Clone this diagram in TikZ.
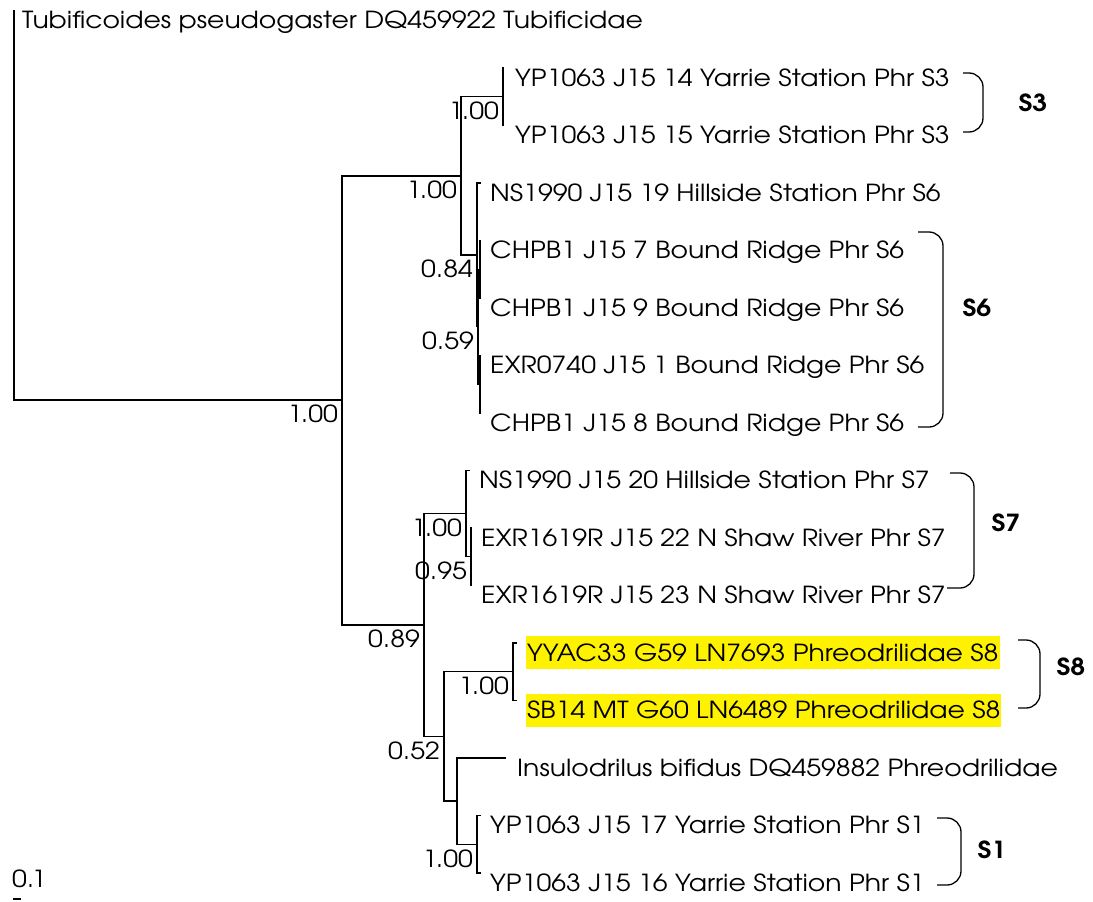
\documentclass[tikz,border=0pt]{standalone}
\usepackage{fontspec}
\setmainfont[FakeStretch=1.135]{TeX Gyre Adventor}
\usepackage{tikz}
\usepackage{xcolor}

\begin{document}
\begin{tikzpicture}[x=1pt, y=-1pt,
  br/.style={line width=1.2pt, line cap=rect},
  tip/.style={anchor=base west, inner sep=0pt, xshift=10pt, yshift=-18pt, font=\fontsize{23.5}{28}\selectfont},
  hl/.style={tip, fill=yellow, inner xsep=1pt, text height=22pt, text depth=5pt, inner ysep=3pt},
  bs/.style={anchor=north east, inner sep=0pt, xshift=-4pt, yshift=-5pt, font=\fontsize{23.5}{28}\selectfont},
  grp/.style={font=\fontsize{23.5}{28}\selectfont\bfseries},
  brk/.style={line width=1.3pt, rounded corners=14pt}]
\useasboundingbox (0,0) rectangle (1093,902);

% tips
\coordinate (tubi) at (14,10.5);
\coordinate (yp14) at (503,68);
\coordinate (yp15) at (503,125.5);
\coordinate (ns19) at (480,183);
\coordinate (ch7) at (480,240.5);
\coordinate (ch9) at (480,298);
\coordinate (exr0740) at (480,355.5);
\coordinate (ch8) at (480,413);
\coordinate (ns20) at (469,470.5);
\coordinate (exr22) at (471,528);
\coordinate (exr23) at (471,585.5);
\coordinate (yyac) at (516,643);
\coordinate (sb14) at (516,700.5);
\coordinate (insul) at (505,758);
\coordinate (yp17) at (480,815.5);
\coordinate (yp16) at (480,873);

% inner nodes
\coordinate (root) at (14,205);
\coordinate (nIn) at (342,400);
\coordinate (nUp) at (461,176);
\coordinate (nS3) at (503,96.75);
\coordinate (nA) at (477,255);
\coordinate (nB) at (478,326.75);
\coordinate (nC1) at (480,269.25);
\coordinate (nC2) at (480,384.25);
\coordinate (nLow) at (424,625);
\coordinate (nS7) at (466,513.5);
\coordinate (nF) at (471,556.75);
\coordinate (nG) at (444,736.5);
\coordinate (nS8) at (513,671.75);
\coordinate (nI) at (457,801);
\coordinate (nS1) at (477,844.25);

% branches
\foreach \a/\b in {root/tubi, root/nIn, nIn/nUp, nIn/nLow, nUp/nS3, nUp/nA,
  nS3/yp14, nS3/yp15, nA/ns19, nA/nB, nB/nC1, nB/nC2, nC1/ch7, nC1/ch9,
  nC2/exr0740, nC2/ch8, nLow/nS7, nLow/nG, nS7/ns20, nS7/nF, nF/exr22, nF/exr23,
  nG/nS8, nG/nI, nS8/yyac, nS8/sb14, nI/insul, nI/nS1, nS1/yp17, nS1/yp16}
  \draw[br] (\a) |- (\b);

% tip labels
\node[tip, xshift=-2pt] (lTubi) at (tubi) {Tubificoides pseudogaster DQ459922 Tubificidae};
\node[tip, xshift=2pt] (lYp14) at (yp14) {YP1063 J15 14 Yarrie Station Phr S3};
\node[tip, xshift=2pt] (lYp15) at (yp15) {YP1063 J15 15 Yarrie Station Phr S3};
\node[tip] (lNs19) at (ns19) {NS1990 J15 19 Hillside Station Phr S6};
\node[tip] (lCh7) at (ch7) {CHPB1 J15 7 Bound Ridge Phr S6};
\node[tip] (lCh9) at (ch9) {CHPB1 J15 9 Bound Ridge Phr S6};
\node[tip] (lExr0740) at (exr0740) {EXR0740 J15 1 Bound Ridge Phr S6};
\node[tip] (lCh8) at (ch8) {CHPB1 J15 8 Bound Ridge Phr S6};
\node[tip] (lNs20) at (ns20) {NS1990 J15 20 Hillside Station Phr S7};
\node[tip] (lExr22) at (exr22) {EXR1619R J15 22 N Shaw River Phr S7};
\node[tip] (lExr23) at (exr23) {EXR1619R J15 23 N Shaw River Phr S7};
\node[hl] (lYyac) at (yyac) {YYAC33 G59 LN7693 Phreodrilidae S8};
\node[hl] (lSb14) at (sb14) {SB14 MT G60 LN6489 Phreodrilidae S8};
\node[tip, xshift=2pt] (lInsul) at (insul) {Insulodrilus bifidus DQ459882 Phreodrilidae};
\node[tip] (lYp17) at (yp17) {YP1063 J15 17 Yarrie Station Phr S1};
\node[tip] (lYp16) at (yp16) {YP1063 J15 16 Yarrie Station Phr S1};

% support values
\node[bs] (bIn) at (nIn) {1.00};
\node[bs] (bUp) at (nUp) {1.00};
\node[bs] (bS3) at (nS3) {1.00};
\node[bs] (bA) at (nA) {0.84};
\node[bs] (bB) at (nB) {0.59};
\node[bs] (bLow) at (nLow) {0.89};
\node[bs] (bS7) at (nS7) {1.00};
\node[bs] (bF) at (nF) {0.95};
\node[bs] (bG) at (nG) {0.52};
\node[bs] (bS8) at (nS8) {1.00};
\node[bs] (bS1) at (nS1) {1.00};

% groups
\draw[brk] (963,73) -- (983,73) -- (983,132) -- (963,132);
\node[grp] (gS3) at (1033,103) {S3};
\draw[brk] (918,232) -- (943,232) -- (943,427) -- (918,427);
\node[grp] (gS6) at (977,308) {S6};
\draw[brk] (950,473) -- (974,473) -- (974,588) -- (947,588);
\node[grp] (gS7) at (1006,523) {S7};
\draw[brk] (1018,640) -- (1040,640) -- (1040,708) -- (1018,708);
\node[grp] (gS8) at (1071,667) {S8};
\draw[brk] (937,818) -- (961,818) -- (961,885) -- (937,885);
\node[grp] (gS1) at (992,850) {S1};

% scale
\node[anchor=base west, inner sep=0pt, font=\fontsize{23.5}{28}\selectfont] (sc) at (12,887) {0.1};
\coordinate (sc1) at (13,899);
\coordinate (sc2) at (21,899);
\draw[line width=1.2pt] (sc1) -- (sc2);
\end{tikzpicture}
\end{document}
